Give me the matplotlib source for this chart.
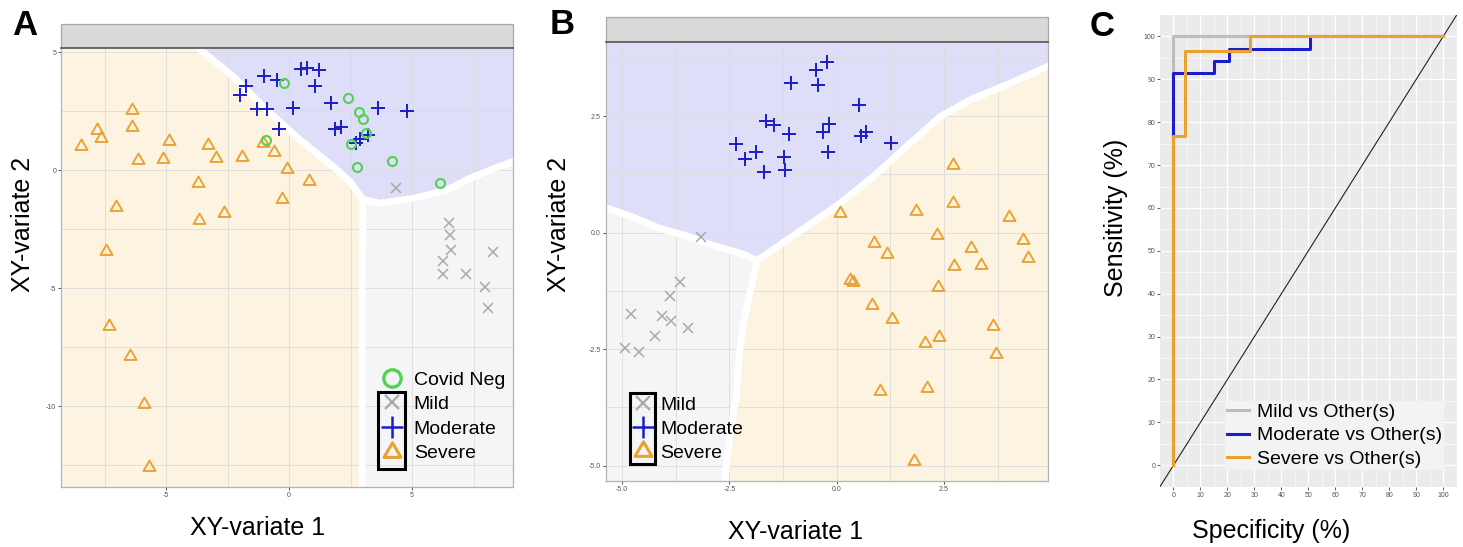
import numpy as np
import matplotlib.pyplot as plt
from matplotlib.lines import Line2D
from matplotlib.patches import Rectangle
from matplotlib.path import Path

plt.rcParams['font.family'] = ['Liberation Sans', 'DejaVu Sans']
plt.rcParams['axes.unicode_minus'] = False

# ---------------- panel A data (XY-variates, 4 groups) ----------------
sevA_x = [-8.46, -7.79, -7.65, -6.39, -6.38, -4.88, -6.15, -5.13, -3.30, -2.97, -1.90, -1.06, -0.61,
          -0.09, -3.69, 0.81, -7.05, -0.28, -3.66, -2.64, -7.44, -7.30, -6.46, -5.89, -5.70]
sevA_y = [1.02, 1.69, 1.34, 2.54, 1.84, 1.24, 0.42, 0.48, 1.05, 0.50, 0.54, 1.16, 0.78,
          0.03, -0.54, -0.45, -1.55, -1.24, -2.12, -1.84, -3.42, -6.60, -7.87, -9.93, -12.57]
mildA_x = [4.35, 6.48, 6.54, 6.57, 8.28, 6.27, 6.25, 7.20, 7.97, 8.08]
mildA_y = [-0.75, -2.26, -2.75, -3.39, -3.46, -3.86, -4.41, -4.41, -4.97, -5.83]
modA_x = [-1.99, -1.75, -1.04, -0.48, 0.49, 0.74, 1.23, 1.07, -1.31, -0.91,
          0.15, 1.71, 3.61, 4.81, -0.41, 1.87, 2.10, 2.72, 2.89, 3.22]
modA_y = [3.18, 3.57, 3.98, 3.81, 4.27, 4.34, 4.24, 3.57, 2.58, 2.57,
          2.61, 2.82, 2.61, 2.50, 1.74, 1.72, 1.83, 1.16, 1.30, 1.48]
negA_x = [-0.20, 2.39, 2.83, 3.02, 3.13, 2.52, -0.95, 2.78, 4.20, 6.14]
negA_y = [3.70, 3.04, 2.47, 2.15, 1.55, 1.10, 1.27, 0.14, 0.37, -0.54]

# decision boundaries A (orange/blue, blue/grey, orange/grey)
bndA_ob_x = [-4.2, -2.26, -0.91, 0.45, 1.80, 2.48, 3.0]
bndA_ob_y = [5.6, 3.95, 2.54, 1.27, 0.14, -0.50, -1.25]
bndA_bg_x = [3.0, 3.70, 5.05, 5.73, 6.41, 7.36, 8.44, 9.39, 10.0]
bndA_bg_y = [-1.25, -1.41, -1.20, -1.03, -0.85, -0.35, 0.11, 0.47, 0.70]
bndA_og_x = [3.0, 2.97, 2.97]
bndA_og_y = [-1.25, -5.0, -14.0]

# ---------------- panel B data (3 groups) ----------------
modB_x = [-2.35, -2.14, -1.88, -1.65, -1.45, -1.12, -1.23, -1.20, -1.69, -1.07,
          -0.49, -0.23, -0.44, -0.17, -0.31, -0.21, 0.51, 0.57, 0.68, 1.27]
modB_y = [1.90, 1.59, 1.72, 2.40, 2.30, 2.11, 1.63, 1.35, 1.29, 3.21,
          3.49, 3.67, 3.17, 2.33, 2.15, 1.73, 2.74, 2.08, 2.16, 1.92]
sevB_x = [0.08, 1.84, 2.70, 2.70, 4.02, 2.33, 0.87, 1.18, 3.13, 4.35, 4.45, 2.74, 3.36,
          0.31, 0.37, 2.35, 0.82, 1.28, 3.64, 2.38, 2.06, 3.71, 1.01, 2.10, 1.81]
sevB_y = [0.43, 0.47, 1.44, 0.63, 0.33, -0.05, -0.23, -0.46, -0.32, -0.16, -0.54, -0.71, -0.69,
          -1.02, -1.05, -1.16, -1.55, -1.86, -2.00, -2.25, -2.36, -2.61, -3.40, -3.34, -4.90]
mildB_x = [-3.16, -3.65, -3.89, -4.80, -4.07, -3.86, -3.46, -4.24, -4.92, -4.60]
mildB_y = [-0.10, -1.05, -1.37, -1.74, -1.79, -1.89, -2.05, -2.22, -2.47, -2.57]

bndB_bg_x = [-5.6, -5.28, -4.74, -4.12, -3.42, -3.03, -2.56, -2.18, -1.85]
bndB_bg_y = [0.60, 0.50, 0.33, 0.09, -0.09, -0.23, -0.36, -0.46, -0.60]
bndB_bo_x = [-1.85, -0.70, 0.08, 0.85, 1.63, 2.41, 3.18, 3.96, 4.90, 5.3]
bndB_bo_y = [-0.60, 0.13, 0.63, 1.20, 1.85, 2.49, 2.88, 3.17, 3.56, 3.72]
bndB_go_x = [-1.85, -2.02, -2.19, -2.28, -2.33, -2.45, -2.56, -2.62]
bndB_go_y = [-0.60, -1.30, -2.02, -2.73, -3.45, -4.16, -4.88, -5.6]

# ---------------- panel C data (ROC curves) ----------------
roc_labels = ['Mild vs Other(s)', 'Moderate vs Other(s)', 'Severe vs Other(s)']
roc_mild_x = [0, 0, 100]
roc_mild_y = [0, 100, 100]
roc_mod_x = [0, 0, 15.0, 15.0, 20.4, 20.4, 50.6, 50.6, 100]
roc_mod_y = [0, 91.4, 91.4, 94.2, 94.2, 97.0, 97.0, 100, 100]
roc_sev_x = [0, 0, 4.3, 4.3, 28.4, 28.4, 100]
roc_sev_y = [0, 76.7, 76.7, 96.6, 96.6, 100, 100]

ORANGE = '#eaa12e'
BLUE = '#1c1cc9'
GREY = '#a9a9a9'
GREEN = '#52d152'
LGREY = '#bdbdbd'
F_OR, F_BL, F_GR = '#fdf3e1', '#dedef8', '#f5f5f7'
# ggplot-like equilateral open triangle
TRI = Path([(0, 1), (-0.866, -0.5), (0.866, -0.5), (0, 1)],
           [Path.MOVETO, Path.LINETO, Path.LINETO, Path.CLOSEPOLY])

W, H = 1463, 547
fig = plt.figure(figsize=(W / 100, H / 100), dpi=100)


def px_axes(l, t, r, b):
    return fig.add_axes([l / W, 1 - b / H, (r - l) / W, (b - t) / H])


def style_panel(ax, xlim, ylim, xt, xtl, xm, yt, ytl, ym, strip_h):
    ax.set_xlim(xlim)
    ax.set_ylim(ylim)
    ax.set_xticks(xt, xtl)
    ax.set_yticks(yt, ytl)
    ax.set_xticks(xm, minor=True)
    ax.set_yticks(ym, minor=True)
    ax.set_axisbelow('line')
    ax.grid(which='both', color='#dcdcdc', lw=0.6)
    ax.tick_params(which='major', length=2, width=0.6, color='#333333',
                   labelsize=5, labelcolor='#555555', pad=1.5)
    ax.tick_params(which='minor', length=0)
    for s in ax.spines.values():
        s.set_color('#b3b3b3')
        s.set_linewidth(0.9)
    ax.spines['top'].set_color('#555555')
    ax.spines['top'].set_linewidth(1.2)
    ax.add_patch(Rectangle((0, 1), 1, strip_h, transform=ax.transAxes, clip_on=False,
                           fc='#d9d9d9', ec='#a8a8a8', lw=0.9, zorder=0))


def boundary(ax, x, y):
    ax.plot(x, y, color='white', lw=5, solid_joinstyle='round', solid_capstyle='round', zorder=1.6)


# ================= panel A =================
axA = px_axes(61, 48, 513, 487)
xlA, ylA = (-9.27, 9.1), (-13.43, 5.17)
orA = list(zip(bndA_ob_x, bndA_ob_y)) + list(zip(bndA_og_x[1:], bndA_og_y[1:])) + [(-10, -14), (-10, 5.6)]
blA = list(zip(bndA_ob_x, bndA_ob_y)) + list(zip(bndA_bg_x[1:], bndA_bg_y[1:])) + [(10, 5.6)]
grA = list(zip(bndA_og_x, bndA_og_y)) + [(10, -14)] + list(zip(bndA_bg_x[::-1], bndA_bg_y[::-1]))
for poly, c in [(orA, F_OR), (blA, F_BL), (grA, F_GR)]:
    axA.fill(*zip(*poly), color=c, lw=0, zorder=1)
boundary(axA, bndA_ob_x, bndA_ob_y)
boundary(axA, bndA_bg_x, bndA_bg_y)
boundary(axA, bndA_og_x, bndA_og_y)

axA.plot(sevA_x, sevA_y, ls='none', marker=TRI, ms=10, mfc='none', mec=ORANGE, mew=1.35, zorder=3)
axA.plot(mildA_x, mildA_y, ls='none', marker='x', ms=7.5, mec=GREY, mew=1.1, zorder=3)
axA.plot(modA_x, modA_y, ls='none', marker='+', ms=10, mec=BLUE, mew=1.4, zorder=3)
axA.plot(negA_x, negA_y, ls='none', marker='o', ms=6.5, mfc='none', mec=GREEN, mew=1.5, zorder=3)

style_panel(axA, xlA, ylA, [-5, 0, 5], ['-5', '0', '5'], [-7.5, -2.5, 2.5, 7.5],
            [5, 0, -5, -10], ['5', '0', '-5', '-10'], [2.5, -2.5, -7.5, -12.5], 24 / 439)

hA = [Line2D([], [], ls='none', marker='o', ms=12.5, mfc='none', mec=GREEN, mew=2.4),
      Line2D([], [], ls='none', marker='x', ms=9.5, mec=GREY, mew=1.6),
      Line2D([], [], ls='none', marker='+', ms=16, mec=BLUE, mew=1.8),
      Line2D([], [], ls='none', marker=TRI, ms=14, mfc='none', mec=ORANGE, mew=2.2)]
axA.legend(hA, ['Covid Neg', 'Mild', 'Moderate', 'Severe'], loc='upper left',
           bbox_to_anchor=(382 / W, 1 - 371 / H), bbox_transform=fig.transFigure,
           frameon=False, borderpad=0, borderaxespad=0, handlelength=1.0,
           handletextpad=0.63, labelspacing=0.36, fontsize=14)
fig.add_artist(Rectangle((377.7 / W, 1 - 469.3 / H), 27.3 / W, 77 / H,
                         transform=fig.transFigure, fill=False, ec='black', lw=2.2))

# ================= panel B =================
axB = px_axes(605.7, 42, 1048.3, 481)
xlB, ylB = (-5.38, 4.93), (-5.33, 4.09)
blB = list(zip(bndB_bg_x, bndB_bg_y)) + list(zip(bndB_bo_x[1:], bndB_bo_y[1:])) + [(5.3, 4.5), (-5.6, 4.5)]
orB = list(zip(bndB_bo_x, bndB_bo_y)) + [(5.3, -5.6)] + list(zip(bndB_go_x[::-1], bndB_go_y[::-1]))
grB = list(zip(bndB_bg_x, bndB_bg_y)) + list(zip(bndB_go_x[1:], bndB_go_y[1:])) + [(-5.6, -5.6)]
for poly, c in [(orB, F_OR), (blB, F_BL), (grB, F_GR)]:
    axB.fill(*zip(*poly), color=c, lw=0, zorder=1)
boundary(axB, bndB_bg_x, bndB_bg_y)
boundary(axB, bndB_bo_x, bndB_bo_y)
boundary(axB, bndB_go_x, bndB_go_y)

axB.plot(sevB_x, sevB_y, ls='none', marker=TRI, ms=10, mfc='none', mec=ORANGE, mew=1.35, zorder=3)
axB.plot(mildB_x, mildB_y, ls='none', marker='x', ms=7.5, mec=GREY, mew=1.1, zorder=3)
axB.plot(modB_x, modB_y, ls='none', marker='+', ms=10, mec=BLUE, mew=1.4, zorder=3)

style_panel(axB, xlB, ylB, [-5, -2.5, 0, 2.5], ['-5.0', '-2.5', '0.0', '2.5'],
            [-3.75, -1.25, 1.25, 3.75], [2.5, 0, -2.5, -5], ['2.5', '0.0', '-2.5', '-5.0'],
            [3.75, 1.25, -1.25, -3.75], 25 / 439)

axB.legend(hA[1:], ['Mild', 'Moderate', 'Severe'], loc='upper left',
           bbox_to_anchor=(633.3 / W, 1 - 396 / H), bbox_transform=fig.transFigure,
           frameon=False, borderpad=0, borderaxespad=0, handlelength=1.0,
           handletextpad=0.38, labelspacing=0.34, fontsize=14)
fig.add_artist(Rectangle((630 / W, 1 - 464 / H), 25 / W, 71.3 / H,
                         transform=fig.transFigure, fill=False, ec='black', lw=2.2))

# ================= panel C =================
axC = px_axes(1160, 15, 1456.7, 486.7)
axC.set_facecolor('#ebebeb')
axC.plot(roc_mild_x, roc_mild_y, color=LGREY, lw=2.2, zorder=3, label=roc_labels[0])
axC.plot(roc_mod_x, roc_mod_y, color=BLUE, lw=2.2, zorder=3, label=roc_labels[1])
axC.plot(roc_sev_x, roc_sev_y, color=ORANGE, lw=2.2, zorder=3, label=roc_labels[2])
axC.axline((0, 0), (100, 100), color='#222222', lw=0.8, zorder=2)
axC.set_xlim(-5, 105)
axC.set_ylim(-5, 105)
axC.set_xticks(np.arange(0, 101, 10))
axC.set_yticks(np.arange(0, 101, 10))
axC.set_xticks(np.arange(5, 101, 10), minor=True)
axC.set_yticks(np.arange(5, 101, 10), minor=True)
axC.set_axisbelow(True)
axC.grid(which='major', color='white', lw=0.9)
axC.grid(which='minor', color='white', lw=0.45)
axC.tick_params(which='major', length=2, width=0.6, color='#444444',
                labelsize=5, labelcolor='#555555', pad=1.5)
axC.tick_params(which='minor', length=0)
for s in axC.spines.values():
    s.set_visible(False)
legC = axC.legend(loc='upper left', bbox_to_anchor=(1225 / W, 1 - 401 / H),
                  bbox_transform=fig.transFigure, frameon=True, fancybox=False,
                  borderpad=0.1, borderaxespad=0, handlelength=1.13, handletextpad=0.43,
                  labelspacing=0.32, fontsize=14)
legC.get_frame().set_facecolor('#f3f3f3')
legC.get_frame().set_edgecolor('none')
legC.get_frame().set_alpha(1)

# ---------------- labels ----------------
for x, y, t in [(24.5, 25.5, 'A'), (562, 25, 'B'), (1102, 27, 'C')]:
    fig.text(x / W, 1 - y / H, t, fontsize=25, fontweight='bold', ha='center', va='center')
for x, y, t in [(258, 535, 'XY-variate 1'), (796, 539, 'XY-variate 1'), (1271, 538, 'Specificity (%)')]:
    fig.text(x / W, 1 - y / H, t, fontsize=18, ha='center', va='baseline')
for x, y, t in [(23, 224, 'XY-variate 2'), (559, 224, 'XY-variate 2'), (1116, 218, 'Sensitivity (%)')]:
    fig.text(x / W, 1 - y / H, t, fontsize=18, ha='center', va='center', rotation=90)

fig.savefig('out.png', dpi=100)
